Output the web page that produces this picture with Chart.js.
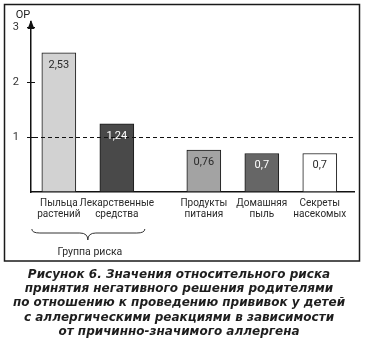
<!DOCTYPE html>
<html><head><meta charset="utf-8">
<script src="https://cdn.jsdelivr.net/npm/chart.js@4"></script>
<style>html,body{margin:0;padding:0;background:#fff}canvas{display:block}</style>
</head><body>
<canvas id="c" width="368" height="345"></canvas>
<script>
const categories = ['Пыльца растений', 'Лекарственные средства', 'Продукты питания', 'Домашняя пыль', 'Секреты насекомых'];
const riskValues = [2.53, 1.24, 0.76, 0.7, 0.7];
const yTickValues = [1, 2, 3];
const referenceLevel = 1;
const riskGroupCount = 2;
const riskGroupLabel = 'Группа риска';
const axisTitle = 'ОР';
const captionLines = [
  'Рисунок 6. Значения относительного риска',
  'принятия негативного решения родителями',
  'по отношению к проведению прививок у детей',
  'с аллергическими реакциями в зависимости',
  'от причинно-значимого аллергена'
];

// layout / style (not data)
const GROUP_GAP = 0.5;
const positions = categories.map((c, i) => i + (i >= riskGroupCount ? GROUP_GAP : 0));
const barColors = ['#d2d2d2', '#494949', '#a3a3a3', '#666666', '#ffffff'];
const labelColors = ['#2a2a2a', '#ffffff', '#2a2a2a', '#ffffff', '#2a2a2a'];
const NARROW = "Roboto,'Liberation Sans',sans-serif";
const fmt = v => String(v).replace('.', ',');

const framePlugin = {
  id: 'frame',
  beforeDraw(chart) {
    const ctx = chart.ctx;
    ctx.save(); ctx.fillStyle = '#fff'; ctx.fillRect(0, 0, chart.width, chart.height); ctx.restore();
  },
  afterDraw(chart) {
    const ctx = chart.ctx;
    ctx.save(); ctx.strokeStyle = '#1a1a1a'; ctx.lineWidth = 1.5;
    ctx.strokeRect(4.5, 4.5, 355, 256.5); ctx.restore();
  }
};

const decorPlugin = {
  id: 'decor',
  afterDatasetsDraw(chart) {
    const {ctx, chartArea: a, scales: {x, y}} = chart;
    ctx.save();
    ctx.strokeStyle = '#111';
    const yr = Math.round(y.getPixelForValue(referenceLevel)) + 0.5;
    ctx.lineWidth = 1; ctx.setLineDash([4, 3]);
    ctx.beginPath(); ctx.moveTo(a.left + 3, yr); ctx.lineTo(a.right, yr); ctx.stroke();
    ctx.setLineDash([]);
    yTickValues.forEach(v => {
      const py = Math.round(y.getPixelForValue(v)) + 0.5;
      ctx.beginPath(); ctx.moveTo(a.left - 4, py); ctx.lineTo(a.left + 4, py); ctx.stroke();
    });
    ctx.fillStyle = '#111';
    ctx.beginPath(); ctx.moveTo(a.left, a.top - 2); ctx.lineTo(a.left - 3.5, a.top + 7); ctx.lineTo(a.left + 3.5, a.top + 7); ctx.closePath(); ctx.fill();
    ctx.font = `11px ${NARROW}`; ctx.fillStyle = '#222'; ctx.textAlign = 'center'; ctx.textBaseline = 'middle';
    ctx.fillText(axisTitle, a.left - 8, a.top - 7);
    const meta = chart.getDatasetMeta(0);
    meta.data.forEach((bar, i) => {
      ctx.fillStyle = labelColors[i];
      ctx.fillText(fmt(riskValues[i]), bar.x, bar.y + 12);
    });
    const p0 = x.getPixelForValue(positions[0]);
    const p1 = x.getPixelForValue(positions[riskGroupCount - 1]);
    const x1 = p0 - 27, x2 = p1 + 28, mid = (p0 + p1) / 2;
    const b = a.bottom;
    const yTop = b + 37, yMid = b + 41, yTip = b + 48;
    ctx.strokeStyle = '#333'; ctx.lineWidth = 1;
    ctx.beginPath();
    ctx.moveTo(x1, yTop);
    ctx.quadraticCurveTo(x1, yMid, x1 + 8, yMid);
    ctx.lineTo(mid - 8, yMid);
    ctx.quadraticCurveTo(mid, yMid, mid, yTip);
    ctx.quadraticCurveTo(mid, yMid, mid + 8, yMid);
    ctx.lineTo(x2 - 8, yMid);
    ctx.quadraticCurveTo(x2, yMid, x2, yTop);
    ctx.stroke();
    ctx.font = `10.5px ${NARROW}`;
    ctx.fillStyle = '#2a2a2a';
    ctx.fillText(riskGroupLabel, mid + 2, b + 60);
    ctx.restore();
  }
};

new Chart(document.getElementById('c'), {
  type: 'bar',
  data: {
    datasets: [{
      data: riskValues.map((v, i) => ({x: positions[i], y: v})),
      backgroundColor: barColors,
      borderColor: '#1a1a1a',
      borderWidth: 1,
      borderSkipped: false,
      barThickness: 34
    }]
  },
  options: {
    responsive: false,
    animation: false,
    devicePixelRatio: 1,
    layout: {padding: {left: 4, right: 14, top: 22, bottom: 0}},
    plugins: {
      legend: {display: false},
      tooltip: {enabled: false},
      title: {
        display: true,
        position: 'bottom',
        text: captionLines,
        color: '#1e1e1e',
        font: {family: "'DejaVu Sans',sans-serif", size: 12, weight: 'bold', style: 'italic', lineHeight: 1.19},
        padding: {top: 0, bottom: 6}
      }
    },
    scales: {
      x: {
        type: 'linear', min: -0.48, max: 5.09, offset: false,
        grid: {display: false, drawTicks: false},
        border: {display: true, color: '#111', width: 1.5},
        afterBuildTicks: s => { s.ticks = positions.map(v => ({value: v})); },
        afterFit: s => { s.height = 75.6; },
        ticks: {
          autoSkip: false, maxRotation: 0, minRotation: 0, padding: 6, color: '#2a2a2a',
          font: {family: NARROW, size: 10, lineHeight: 1.12},
          callback: (v, i) => categories[i].split(' ')
        }
      },
      y: {
        min: 0, max: 3.09,
        grid: {display: false, drawTicks: false},
        border: {display: true, color: '#111', width: 1.5},
        afterBuildTicks: s => { s.ticks = yTickValues.map(v => ({value: v})); },
        afterFit: s => { s.width = 27; },
        ticks: {padding: 12, color: '#333', font: {family: NARROW, size: 11}, callback: v => String(v)}
      }
    }
  },
  plugins: [framePlugin, decorPlugin]
});
</script>
</body></html>
